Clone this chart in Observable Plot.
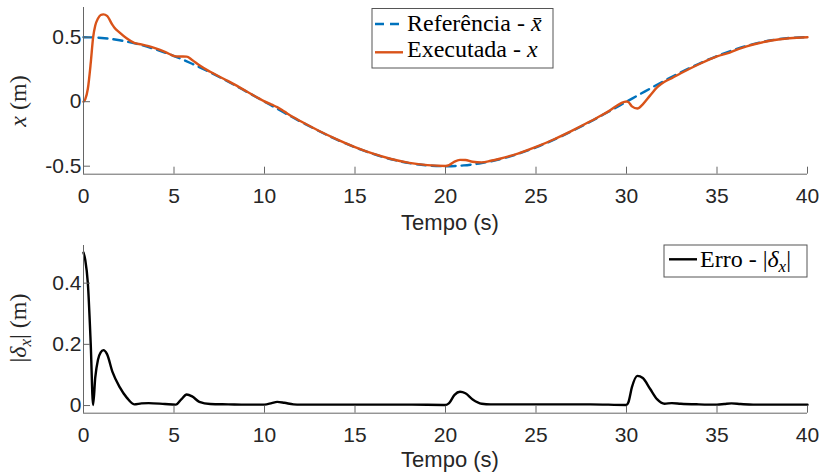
<!DOCTYPE html>
<html>
<head>
<meta charset="utf-8">
<script src="https://cdn.jsdelivr.net/npm/d3@7"></script>
<script src="https://cdn.jsdelivr.net/npm/@observablehq/plot@0.6"></script>
<style>
  body { margin: 0; background: #fff; }
  #fig { position: relative; width: 828px; height: 475px; background: #fff; }
  #fig svg { display: block; overflow: visible; }
</style>
</head>
<body>
<div id="fig"></div>
<script>
// Axis ticks
const xTicks = [0, 5, 10, 15, 20, 25, 30, 35, 40];
const posTicks = [-0.5, 0, 0.5];
const errTicks = [0, 0.2, 0.4];

// Reference trajectory x̄ (m)
const refT = [0,1,2,3,4,5,6,7,8,9,10,11,12,13,14,15,16,17,18,19,20,
              21,22,23,24,25,26,27,28,29,30,31,32,33,34,35,36,37,38,39,40];
const refX = [0.500,0.494,0.476,0.446,0.405,0.354,0.294,0.227,0.155,0.078,0.000,
              -0.078,-0.155,-0.227,-0.294,-0.354,-0.405,-0.446,-0.476,-0.494,-0.500,
              -0.494,-0.476,-0.446,-0.405,-0.354,-0.294,-0.227,-0.155,-0.078,0.000,
              0.078,0.155,0.227,0.294,0.354,0.405,0.446,0.476,0.494,0.500];

// Executed trajectory x (m)
const exeT = [0,0.1,0.24,0.4,0.53,0.65,0.8,0.95,1.1,1.3,1.6,1.7,2.0,2.4,2.8,3.2,3.6,4.5,5.1,5.4,5.7,6.0,6.4,7,8,9,10,
              10.4,10.7,11.1,11.6,12,13,14,15,16,17,18,19,20,20.2,20.5,20.8,21.1,21.5,22,22.5,23,24,25,26,27,28,29,30,
              30.1,30.3,30.6,30.9,31.3,31.7,32.1,32.5,33,34,35,35.7,36.3,37,38,39,40];
const exeX = [0.000,0.020,0.100,0.300,0.497,0.590,0.645,0.672,0.677,0.665,0.595,0.575,0.535,0.489,0.455,0.444,0.430,0.386,0.351,0.350,0.349,0.324,0.282,0.232,0.159,0.081,0.003,
              -0.023,-0.042,-0.077,-0.121,-0.152,-0.225,-0.292,-0.352,-0.403,-0.444,-0.474,-0.492,-0.498,-0.491,-0.464,-0.451,-0.452,-0.466,-0.470,-0.458,-0.442,-0.402,-0.351,-0.291,-0.224,-0.152,-0.075,0.002,
              -0.002,-0.036,-0.053,-0.020,0.047,0.112,0.154,0.182,0.220,0.290,0.351,0.381,0.413,0.443,0.474,0.492,0.499];

// Tracking error |δx| (m)
const errT = [0,0.1,0.24,0.4,0.53,0.65,0.8,0.95,1.1,1.3,1.6,2.0,2.4,2.8,3.2,3.6,4.5,5.1,5.4,5.7,6.0,6.4,7,8,9,10,
              10.4,10.7,11.1,11.6,12,14,16,18,20,20.2,20.5,20.8,21.1,21.5,22,22.5,24,26,28,30,
              30.1,30.3,30.6,30.9,31.3,31.7,32.1,32.5,33,34,35,35.4,35.8,36.3,37,38,40];
const errV = [0.500,0.475,0.400,0.200,0.002,0.092,0.150,0.174,0.181,0.168,0.110,0.060,0.025,0.004,0.007,0.008,0.005,0.003,0.020,0.036,0.030,0.012,0.005,0.004,0.003,0.003,
              0.008,0.012,0.009,0.004,0.003,0.003,0.003,0.003,0.002,0.008,0.035,0.045,0.040,0.020,0.006,0.004,0.004,0.004,0.004,0.002,
              0.010,0.060,0.097,0.090,0.055,0.020,0.006,0.008,0.006,0.004,0.003,0.005,0.007,0.005,0.003,0.003,0.003];

const refData = refT.map((t, i) => ({t, v: refX[i]}));
const exeData = exeT.map((t, i) => ({t, v: exeX[i]}));
const errData = errT.map((t, i) => ({t, v: errV[i]}));

const sans = "'Liberation Sans', Arial, Helvetica, sans-serif";
const serif = "'Liberation Serif', 'Times New Roman', serif";
const ink = "#262626";
const axisStroke = "#666";
const W = 828, ML = 83, MR = 21;

function panel({height, marginTop, marginBottom, yDomain, yTicks, marks}) {
  const frameH = height - marginTop - marginBottom;
  const frameW = W - ML - MR;
  return Plot.plot({
    width: W, height, marginLeft: ML, marginRight: MR, marginTop, marginBottom,
    x: {domain: [0, 40]},
    y: {domain: yDomain},
    style: {fontFamily: sans, fontSize: "21px", color: ink, background: "transparent", overflow: "visible"},
    marks: [
      ...marks,
      Plot.ruleX([0], {stroke: axisStroke, strokeWidth: 1}),
      Plot.ruleY([yDomain[0]], {stroke: axisStroke, strokeWidth: 1}),
      Plot.tickX(xTicks, {x: d => d, insetTop: frameH - 7, stroke: axisStroke}),
      Plot.tickY(yTicks, {y: d => d, insetRight: frameW - 7, stroke: axisStroke}),
      Plot.axisX({ticks: xTicks, tickSize: 0, tickPadding: 14, label: null, tickFormat: d => String(d)}),
      Plot.axisY({ticks: yTicks, tickSize: 0, tickPadding: 2, label: null, tickFormat: d => String(d)})
    ]
  });
}

const topH = 238;
const topPlot = panel({
  height: topH, marginTop: 7, marginBottom: topH - 173.7,
  yDomain: [-0.562, 0.730], yTicks: posTicks,
  marks: [
    Plot.line(refData, {x: "t", y: "v", stroke: "#0072BD", strokeWidth: 2.4, strokeDasharray: "9,6", curve: "monotone-x"}),
    Plot.line(exeData, {x: "t", y: "v", stroke: "#D95319", strokeWidth: 2.4, curve: "monotone-x"})
  ]
});

const botH = 475 - topH;
const botPlot = panel({
  height: botH, marginTop: 245 - topH, marginBottom: 475 - 412.7,
  yDomain: [-0.025, 0.523], yTicks: errTicks,
  marks: [
    Plot.line(errData, {x: "t", y: "v", stroke: "#000", strokeWidth: 2.4, curve: "monotone-x"})
  ]
});

const fig = document.getElementById("fig");
fig.appendChild(topPlot);
fig.appendChild(botPlot);

// Axis titles and legends
function titleX(svg, y) {
  d3.select(svg).append("text")
    .attr("x", 450).attr("y", y)
    .attr("text-anchor", "middle")
    .attr("font-family", sans).attr("font-size", 22).attr("fill", ink)
    .text("Tempo (s)");
}
titleX(topPlot, 229.7);
titleX(botPlot, 229.3);

// y titles (rotated)
{
  const t = d3.select(topPlot).append("text")
    .attr("transform", "translate(26,101) rotate(-90)")
    .attr("text-anchor", "middle")
    .attr("font-family", serif).attr("font-size", 24).attr("fill", ink);
  t.append("tspan").attr("font-style", "italic").text("x");
  t.append("tspan").text("\u00a0(m)");
}
{
  const t = d3.select(botPlot).append("text")
    .attr("transform", `translate(26,${328 - topH}) rotate(-90)`)
    .attr("text-anchor", "middle")
    .attr("font-family", serif).attr("font-size", 24).attr("fill", ink);
  t.append("tspan").text("|");
  t.append("tspan").attr("font-style", "italic").text("δ");
  t.append("tspan").attr("font-style", "italic").attr("font-size", 17).attr("dy", 5).text("x");
  t.append("tspan").attr("dy", -5).text("|\u00a0(m)");
}

// Top legend
{
  const g = d3.select(topPlot).append("g").attr("text-anchor", "start");
  g.append("rect").attr("x", 372).attr("y", 8.5).attr("width", 181).attr("height", 59.5)
    .attr("fill", "#fff").attr("stroke", "#555").attr("stroke-width", 1);
  g.append("line").attr("x1", 375).attr("x2", 403).attr("y1", 24).attr("y2", 24)
    .attr("stroke", "#0072BD").attr("stroke-width", 2.4).attr("stroke-dasharray", "9,6");
  g.append("line").attr("x1", 375).attr("x2", 403).attr("y1", 52.3).attr("y2", 52.3)
    .attr("stroke", "#D95319").attr("stroke-width", 2.4);
  const t1 = g.append("text").attr("x", 407).attr("y", 30.7).attr("text-anchor", "start")
    .attr("font-family", serif).attr("font-size", 24).attr("fill", "#000");
  t1.append("tspan").text("Referência - ");
  t1.append("tspan").attr("font-style", "italic").text("x\u0304");
  const t2 = g.append("text").attr("x", 407).attr("y", 57.3).attr("text-anchor", "start")
    .attr("font-family", serif).attr("font-size", 24).attr("fill", "#000");
  t2.append("tspan").text("Executada - ");
  t2.append("tspan").attr("font-style", "italic").text("x");
}

// Bottom legend
{
  const g = d3.select(botPlot).append("g").attr("text-anchor", "start");
  const oy = -topH;
  g.append("rect").attr("x", 664).attr("y", 245 + oy).attr("width", 143).attr("height", 32)
    .attr("fill", "#fff").attr("stroke", "#555").attr("stroke-width", 1);
  g.append("line").attr("x1", 669).attr("x2", 697).attr("y1", 259.3 + oy).attr("y2", 259.3 + oy)
    .attr("stroke", "#000").attr("stroke-width", 2.4);
  const t = g.append("text").attr("x", 700).attr("y", 266.7 + oy).attr("text-anchor", "start")
    .attr("font-family", serif).attr("font-size", 24).attr("fill", "#000");
  t.append("tspan").text("Erro - |");
  t.append("tspan").attr("font-style", "italic").text("δ");
  t.append("tspan").attr("font-style", "italic").attr("font-size", 17).attr("dy", 5).text("x");
  t.append("tspan").attr("dy", -5).text("|");
}
</script>
</body>
</html>
